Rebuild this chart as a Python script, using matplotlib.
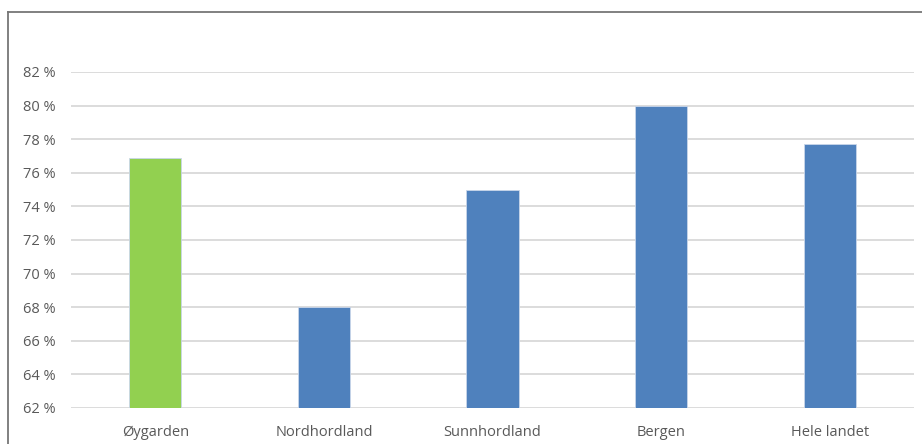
import matplotlib.pyplot as plt
from matplotlib.lines import Line2D

# Andel per region (prosent)
regioner = ['Øygarden', 'Nordhordland', 'Sunnhordland', 'Bergen', 'Hele landet']
andel = [76.9, 68.0, 75.0, 80.0, 77.7]
farger = ['#92D050', '#4F81BD', '#4F81BD', '#4F81BD', '#4F81BD']
yticks = list(range(62, 84, 2))

plt.rcParams['font.family'] = ['Open Sans', 'DejaVu Sans']

fig = plt.figure(figsize=(9.22, 4.44), dpi=100)
ax = fig.add_axes([71 / 922, 1 - 408 / 444, (914 - 71) / 922, (408 - 72) / 444])

x = range(len(regioner))
ax.bar(x, andel, width=0.31, color=farger, edgecolor='#C9D6EA', linewidth=0.6, zorder=3)

ax.set_xlim(-0.5, len(regioner) - 0.5)
ax.set_ylim(62, 82)
ax.set_yticks(yticks)
ax.set_yticklabels([f'{t} %' for t in yticks])
ax.set_xticks(list(x))
ax.set_xticklabels(regioner)

ax.grid(axis='y', color='#D9D9D9', linewidth=1.3, zorder=0)
ax.tick_params(axis='both', length=0, labelsize=10.5, colors='#595959')
ax.tick_params(axis='y', pad=11)
ax.tick_params(axis='x', pad=12)
for s in ax.spines.values():
    s.set_visible(False)

# ramme rundt diagrammet
fig.add_artist(Line2D([8 / 922, 1], [1 - 12 / 444, 1 - 12 / 444], color='#767676', linewidth=1.3))
fig.add_artist(Line2D([8 / 922, 8 / 922], [0, 1 - 12 / 444], color='#767676', linewidth=1.3))

fig.savefig('out.png', dpi=100)
